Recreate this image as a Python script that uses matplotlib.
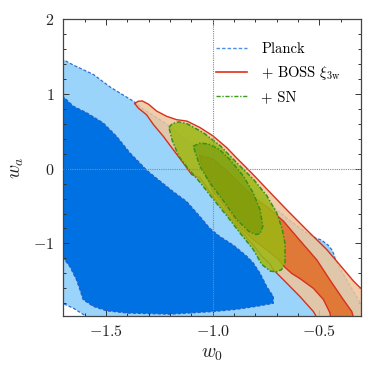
import matplotlib
matplotlib.use("Agg")
import matplotlib.pyplot as plt
from matplotlib.lines import Line2D
from matplotlib.ticker import MultipleLocator, FixedLocator

plt.rcParams.update({
    "font.family": "serif",
    "font.serif": ["cmr10"],
    "mathtext.fontset": "cm",
    "axes.formatter.use_mathtext": True,
    "axes.unicode_minus": True,
})

# ---------------- data (contour boundaries in (w0, wa)) ----------------
planck_outer_w0 = [-1.80, -1.703, -1.65, -1.56, -1.48, -1.40, -1.36, -1.333, -1.20, -1.10, -1.00,
                   -0.90, -0.80, -0.76, -0.70, -0.64, -0.56, -0.52, -0.49, -0.46, -0.44, -0.43,
                   -0.425, -0.41, -0.39, -0.36, -0.317, -0.26, -0.20, -0.20, -1.58, -1.60, -1.65,
                   -1.703, -1.80]
planck_outer_wa = [1.55, 1.46, 1.38, 1.26, 1.09, 0.95, 0.88, 0.81, 0.566, 0.34, 0.12,
                   -0.11, -0.33, -0.42, -0.55, -0.69, -0.86, -0.925, -0.955, -1.02, -1.09, -1.16,
                   -1.22, -1.30, -1.40, -1.55, -1.75, -2.05, -2.10, -2.20, -2.20, -1.96, -1.87,
                   -1.80, -1.75]

planck_inner_w0 = [-1.80, -1.703, -1.653, -1.59, -1.513, -1.45, -1.388, -1.35, -1.31, -1.25,
                   -1.184, -1.122, -1.06, -1.013, -0.97, -0.90, -0.841, -0.81, -0.778, -0.747,
                   -0.716, -0.716, -0.794, -0.888, -0.997, -1.20, -1.40, -1.497, -1.56, -1.607,
                   -1.622, -1.638, -1.669, -1.70, -1.80]
planck_inner_wa = [1.00, 0.968, 0.834, 0.745, 0.61, 0.43, 0.21, 0.10, -0.02, -0.16,
                   -0.31, -0.44, -0.64, -0.80, -0.90, -1.03, -1.17, -1.26, -1.40, -1.575,
                   -1.71, -1.80, -1.84, -1.88, -1.91, -1.945, -1.93, -1.90, -1.84, -1.75,
                   -1.62, -1.486, -1.31, -1.195, -1.15]

boss_outer_w0 = [-1.365, -1.35, -1.33, -1.30, -1.263, -1.216, -1.17, -1.12, -1.06, -1.00, -0.934,
                 -0.88, -0.841, -0.80, -0.747, -0.70, -0.653, -0.559, -0.466, -0.403, -0.341,
                 -0.313, -0.25, -0.25, -0.50, -0.516, -0.528, -0.591, -0.653, -0.716, -0.73,
                 -0.77, -0.81, -0.872, -0.934, -1.00, -1.06, -1.098, -1.138, -1.185, -1.231,
                 -1.278, -1.31, -1.349]
boss_outer_wa = [0.87, 0.90, 0.905, 0.86, 0.77, 0.70, 0.655, 0.635, 0.55, 0.44, 0.28,
                 0.12, 0.01, -0.11, -0.27, -0.41, -0.55, -0.82, -1.08, -1.29, -1.50,
                 -1.58, -1.72, -2.20, -2.20, -1.97, -1.91, -1.71, -1.53, -1.35, -1.28,
                 -1.17, -1.02, -0.82, -0.59, -0.36, -0.12, -0.08, 0.076, 0.254, 0.43,
                 0.59, 0.72, 0.81]

boss_inner_w0 = [-1.06, -1.00, -0.93, -0.86, -0.80, -0.75, -0.669, -0.591, -0.512, -0.45, -0.388,
                 -0.348, -0.32, -0.44, -0.45, -0.481, -0.528, -0.591, -0.63, -0.665, -0.69,
                 -0.74, -0.81, -0.872, -0.934, -1.00, -1.03, -1.055]
boss_inner_wa = [0.17, 0.13, -0.04, -0.24, -0.40, -0.50, -0.70, -0.96, -1.22, -1.49, -1.75,
                 -1.91, -2.20, -2.20, -1.93, -1.75, -1.60, -1.47, -1.40, -1.31, -1.22,
                 -1.10, -0.95, -0.78, -0.54, -0.30, -0.10, 0.08]

sn_outer_w0 = [-1.205, -1.19, -1.16, -1.12, -1.044, -0.966, -0.888, -0.81, -0.747, -0.70, -0.675,
               -0.661, -0.661, -0.677, -0.70, -0.73, -0.77, -0.81, -0.872, -0.934, -1.00, -1.06,
               -1.115, -1.16, -1.19]
sn_outer_wa = [0.55, 0.60, 0.625, 0.60, 0.48, 0.31, 0.08, -0.14, -0.36, -0.59, -0.80,
               -1.00, -1.26, -1.35, -1.38, -1.37, -1.28, -1.08, -0.86, -0.63, -0.40, -0.18,
               0.00, 0.17, 0.38]

sn_inner_w0 = [-1.091, -1.06, -1.02, -0.97, -0.919, -0.856, -0.81, -0.778, -0.765, -0.778, -0.80,
               -0.83, -0.888, -0.95, -1.013, -1.06]
sn_inner_wa = [0.30, 0.34, 0.33, 0.26, 0.12, -0.10, -0.325, -0.55, -0.77, -0.87, -0.88,
               -0.84, -0.68, -0.43, -0.19, 0.03]

legend_labels = ["Planck", r"+ BOSS $\xi_{3\mathrm{w}}$", "+ SN"]
ref_w0 = -1.0
ref_wa = 0.0
xticks = [-1.5, -1.0, -0.5]
yticks = [-1, 0, 1, 2]

# ---------------- styles ----------------
c_planck_light = "#9AD4FA"
c_planck_dark = "#0071E3"
c_planck_line = "#2F6FD0"
c_boss_light = "#EEC59C"
c_boss_dark = "#E07838"
c_boss_line = "#D8301C"
c_sn_light = "#9CB812"
c_sn_dark = "#5E8E00"
c_sn_line = "#3C8E1C"

fig = plt.figure(figsize=(3.74, 3.74), dpi=100)
ax = fig.add_axes([0.1676, 0.155, 0.7976, 0.7942])

def closed(a):
    return list(a) + [a[0]]

# Planck
ax.fill(planck_outer_w0, planck_outer_wa, color=c_planck_light, lw=0, zorder=1)
ax.fill(planck_inner_w0, planck_inner_wa, color=c_planck_dark, lw=0, zorder=1.1)
ax.plot(closed(planck_outer_w0), closed(planck_outer_wa), color=c_planck_line, lw=0.9,
        ls=(0, (2.5, 1.5)), zorder=1.2)
ax.plot(closed(planck_inner_w0), closed(planck_inner_wa), color="#1F5FC8", lw=0.9,
        ls=(0, (2.5, 1.5)), zorder=1.2)

# BOSS
ax.fill(boss_outer_w0, boss_outer_wa, color=c_boss_light, lw=0, alpha=0.85, zorder=2)
ax.fill(boss_inner_w0, boss_inner_wa, color=c_boss_dark, lw=0, zorder=2.1)
ax.plot(closed(boss_outer_w0), closed(boss_outer_wa), color=c_boss_line, lw=1.0, zorder=2.2)
ax.plot(closed(boss_inner_w0), closed(boss_inner_wa), color=c_boss_line, lw=1.0, zorder=2.2)

# SN
ax.fill(sn_outer_w0, sn_outer_wa, color=c_sn_light, lw=0, alpha=0.85, zorder=3)
ax.fill(sn_inner_w0, sn_inner_wa, color=c_sn_dark, lw=0, alpha=0.45, zorder=3.1)
ax.plot(closed(sn_outer_w0), closed(sn_outer_wa), color=c_sn_line, lw=1.1,
        ls=(0, (3, 1.2, 1, 1.2)), zorder=3.2)
ax.plot(closed(sn_inner_w0), closed(sn_inner_wa), color=c_sn_line, lw=1.1,
        ls=(0, (3, 1.2, 1, 1.2)), zorder=3.2)

ax.axvline(ref_w0, color="#8a8a8a", lw=0.8, ls=(0, (1, 1)), zorder=5)
ax.axhline(ref_wa, color="#8a8a8a", lw=0.8, ls=(0, (1, 1)), zorder=5)

ax.set_xlim(-1.703, -0.305)
ax.set_ylim(-1.97, 2.0)
ax.xaxis.set_major_locator(FixedLocator(xticks))
ax.yaxis.set_major_locator(FixedLocator(yticks))
ax.xaxis.set_minor_locator(MultipleLocator(0.1))
ax.yaxis.set_minor_locator(MultipleLocator(0.2))
ax.tick_params(which="both", direction="in", top=True, right=True, width=0.7,
               color="#333333", labelsize=11.5, labelcolor="#222222")
ax.tick_params(which="major", length=4, pad=6)
ax.tick_params(which="minor", length=2.5)
for s in ax.spines.values():
    s.set_linewidth(0.9)
    s.set_color("#444444")

ax.set_xlabel(r"$w_0$", fontsize=14, labelpad=4, color="#222222")
ax.set_ylabel(r"$w_a$", fontsize=14, labelpad=5, color="#222222")

handles = [
    Line2D([], [], color="#4A8FE2", lw=1.0, ls=(0, (2.5, 1.5))),
    Line2D([], [], color="#E0301C", lw=1.2),
    Line2D([], [], color="#3C9A1C", lw=1.0, ls=(0, (3, 1.2, 1, 1.2))),
]
ax.legend(handles, legend_labels, loc="upper left", bbox_to_anchor=(0.495, 0.94),
          frameon=False, fontsize=10.5, handlelength=2.1, handletextpad=1.0,
          labelspacing=0.55, borderaxespad=0)

fig.savefig("out.png", dpi=100)
